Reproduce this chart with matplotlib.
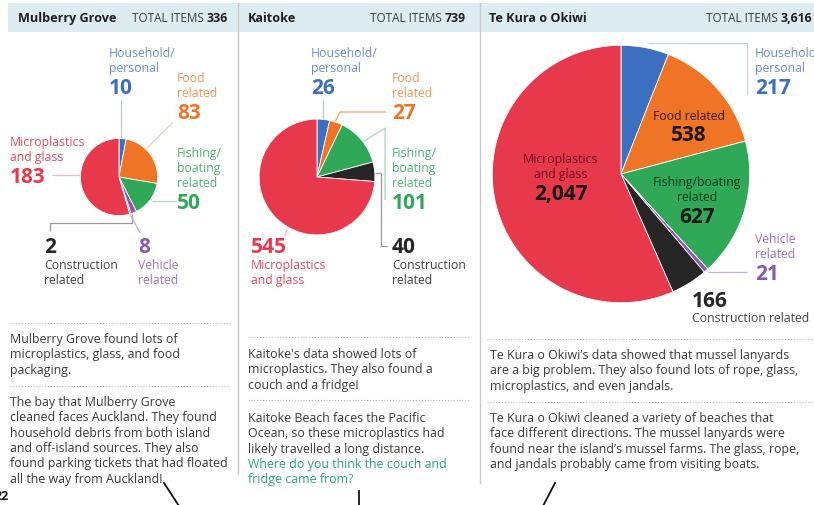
import matplotlib
matplotlib.use("Agg")
import matplotlib.pyplot as plt
from matplotlib.patches import Rectangle

W, H = 814, 505
FONT = "Open Sans"

# ---------------- data ----------------
categories = ["Household/\npersonal", "Food\nrelated", "Fishing/\nboating\nrelated",
              "Vehicle\nrelated", "Construction\nrelated", "Microplastics\nand glass"]
slice_colors = ["#3d6fc1", "#f07425", "#2fa957", "#8b59ad", "#262626", "#e8384b"]
label_colors = ["#6b8fd2", "#f39555", "#4cb673", "#9d76bd", "#444444", "#ea4a5c"]
sites = ["Mulberry Grove", "Kaitoke", "Te Kura o Okiwi"]
mulberry = [10, 83, 50, 8, 2, 183]
kaitoke = [26, 27, 101, 0, 40, 545]
okiwi = [217, 538, 627, 21, 166, 2047]

text_mulberry_1 = ["Mulberry Grove found lots of", "microplastics, glass, and food", "packaging."]
text_mulberry_2 = ["The bay that Mulberry Grove", "cleaned faces Auckland. They found",
                   "household debris from both island", "and off-island sources. They also",
                   "found parking tickets that had floated", "all the way from Auckland!"]
text_kaitoke_1 = ["Kaitoke's data showed lots of", "microplastics. They also found a",
                  "couch and a fridge!"]
text_kaitoke_2 = ["Kaitoke Beach faces the Pacific", "Ocean, so these microplastics had",
                  "likely travelled a long distance."]
text_kaitoke_q = ["Where do you think the couch and", "fridge came from?"]
text_okiwi_1 = ["Te Kura o Okiwi\u2019s data showed that mussel lanyards",
                "are a big problem. They also found lots of rope, glass,",
                "microplastics, and even jandals."]
text_okiwi_2 = ["Te Kura o Okiwi cleaned a variety of beaches that",
                "face different directions. The mussel lanyards were",
                "found near the island\u2019s mussel farms. The glass, rope,",
                "and jandals probably came from visiting boats."]

# ---------------- figure ----------------
fig = plt.figure(figsize=(W / 100, H / 100), dpi=100)
fig.patch.set_facecolor("white")

def overlay(z):
    a = fig.add_axes([0, 0, 1, 1], zorder=z)
    a.set_xlim(0, W)
    a.set_ylim(H, 0)
    a.axis("off")
    a.patch.set_alpha(0)
    return a

bg = overlay(0)
fg = overlay(10)

LBL = 8.8
NUM = 15
BODY = 8.9

def t(x, y, s, size=LBL, color="#333333", weight="normal", ha="left", ax=fg, va="baseline"):
    return ax.text(x, y, s, fontsize=size, color=color, fontweight=weight,
                   ha=ha, va=va, family=FONT)

def lines(x, y0, strs, dy=15.2, **kw):
    for i, s in enumerate(strs):
        t(x, y0 + i * dy, s, **kw)

def leader(pts, color, lw=0.9):
    xs = [p[0] for p in pts]
    ys = [p[1] for p in pts]
    bg.plot(xs, ys, color=color, lw=lw, solid_capstyle="butt")

def draw_pie(values, cx, cy, r):
    ax = fig.add_axes([(cx - r) / W, (H - cy - r) / H, 2 * r / W, 2 * r / H], zorder=5)
    vals = [v for v in values if v > 0]
    cols = [c for v, c in zip(values, slice_colors) if v > 0]
    ax.pie(vals, colors=cols, startangle=90, counterclock=False, radius=1,
           wedgeprops=dict(edgecolor="white", linewidth=0.6))
    ax.set_xlim(-1.01, 1.01)
    ax.set_ylim(-1.01, 1.01)
    ax.set_aspect("equal")
    ax.axis("off")
    return ax

# header band and separators
bg.add_patch(Rectangle((8, 3), W - 8, 29, facecolor="#dcecf1", edgecolor="none"))
for xs, yb in [(238, 474), (480, 483)]:
    bg.plot([xs, xs], [3, yb], color="#c9c9c9", lw=1.0)

# headers
fig.canvas.draw()
renderer = fig.canvas.get_renderer()
header_pos = [(18, 228), (248, 466), (489, 812)]
for site, vals, (xl, xr) in zip(sites, [mulberry, kaitoke, okiwi], header_pos):
    t(xl, 22, site, size=9.1, color="#1e1e1e", weight="bold")
    tot = sum(vals)
    num = t(xr, 22, f"{tot:,}", size=8.8, color="#1e1e1e", weight="bold", ha="right")
    bb = num.get_window_extent(renderer)
    t(xr - bb.width - 3, 22, "TOTAL ITEMS", size=8.4, color="#3a3a3a", ha="right")

# dotted separators
for (x0, x1), ys in [((10, 230), (323, 386)), ((248, 470), (337, 400)), ((487, 812), (339, 402))]:
    for y in ys:
        bg.plot([x0, x1], [y, y], color="#b5b5b5", lw=0.8, ls=(0, (1, 1.6)))

# ---------------- panel 1 ----------------
draw_pie(mulberry, 119, 177, 39)
leader([(121, 100), (121, 138)], "#b9c6e2")
leader([(147, 148), (173, 122)], "#f2cfb2")
leader([(52, 175), (80, 175)], "#f4b8bf")
leader([(152, 201), (176, 201)], "#a9dbb9")
leader([(50, 231), (50, 223), (132, 223), (132, 214)], "#9a9a9a")
leader([(130, 214), (140, 233)], "#c7b0db")

def cat_label(i, x, yb, vals, number_first=False, dy=14.8):
    lab = categories[i].split("\n")
    if number_first:
        t(x, yb, f"{vals[i]:,}", size=NUM, color=slice_colors[i], weight="bold")
        lines(x, yb + 16, lab, dy=dy, color=label_colors[i])
    else:
        lines(x, yb, lab, dy=dy, color=label_colors[i])
        t(x, yb + (len(lab) - 1) * dy + 22.5, f"{vals[i]:,}", size=NUM,
          color=slice_colors[i], weight="bold")

cat_label(0, 109, 57, mulberry)
cat_label(1, 177, 82, mulberry)
cat_label(5, 10, 146, mulberry)
cat_label(2, 177, 157, mulberry)
cat_label(4, 44, 253, mulberry, number_first=True)
cat_label(3, 138, 253, mulberry, number_first=True)

lines(10, 343, text_mulberry_1, dy=15.3, size=BODY, color="#3a3a3a")
lines(10, 406, text_mulberry_2, dy=15.3, size=BODY, color="#3a3a3a")

# ---------------- panel 2 ----------------
draw_pie(kaitoke, 317, 177, 58.5)
leader([(323, 100), (323, 119)], "#b9c6e2")
leader([(335, 122), (340, 112), (386, 112)], "#f2a46e")
leader([(363, 142), (385, 128), (385, 200)], "#a9dbb9")
leader([(375, 173), (381, 173), (381, 246), (387, 246)], "#9a9a9a")
leader([(287, 229), (285, 236)], "#f4b8bf")

cat_label(0, 311, 57, kaitoke)
cat_label(1, 392, 82, kaitoke)
cat_label(2, 392, 157, kaitoke)
cat_label(5, 251, 253, kaitoke, number_first=True)
cat_label(4, 392, 253, kaitoke, number_first=True)

lines(248, 358, text_kaitoke_1, dy=15.3, size=BODY, color="#3a3a3a")
lines(248, 422, text_kaitoke_2, dy=15.3, size=BODY, color="#3a3a3a")
lines(248, 422 + 3 * 15.3, text_kaitoke_q, dy=15.3, size=BODY, color="#2aa77a")

# ---------------- panel 3 ----------------
draw_pie(okiwi, 621, 174, 130)
leader([(648, 43), (747, 43), (747, 95)], "#c9d2e6")
leader([(708, 272), (747, 272)], "#c7b0db")

cat_label(0, 755, 57, okiwi)
lines(755, 243, categories[3].split("\n"), dy=14.8, color=label_colors[3])
t(755, 280, f"{okiwi[3]:,}", size=NUM, color=slice_colors[3], weight="bold")
t(692, 307, f"{okiwi[4]:,}", size=NUM, color="#262626", weight="bold")
t(692, 322, "Construction related", color="#444444")

# inside-wedge labels
t(689, 120, "Food related", color="#3a1a05", ha="center")
t(689, 141, f"{okiwi[1]:,}", size=NUM, color="#161616", weight="bold", ha="center")
t(561, 163, "Microplastics", color="#6d1020", ha="center")
t(561, 178, "and glass", color="#6d1020", ha="center")
t(561, 200, f"{okiwi[5]:,}", size=NUM, color="#161616", weight="bold", ha="center")
t(697, 186, "Fishing/boating", color="#0d3b1c", ha="center")
t(697, 201, "related", color="#0d3b1c", ha="center")
t(697, 223, f"{okiwi[2]:,}", size=NUM, color="#161616", weight="bold", ha="center")

lines(490, 359, text_okiwi_1, dy=15.3, size=BODY, color="#3a3a3a")
lines(490, 422, text_okiwi_2, dy=15.3, size=BODY, color="#3a3a3a")

# page number and pointer lines
t(9, 500, "22", size=9, color="#1a1a1a", weight="bold", ha="right")
bg.plot([164, 179], [483, 506], color="#111111", lw=1.3)
bg.plot([359, 359], [491, 506], color="#111111", lw=1.3)
bg.plot([555, 543], [483, 506], color="#111111", lw=1.3)

fig.savefig("out.png", dpi=100, facecolor="white")
